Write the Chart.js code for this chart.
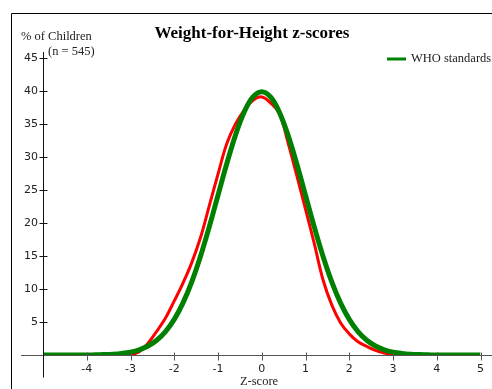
<!DOCTYPE html>
<html>
<head>
<meta charset="utf-8">
<script src="https://cdn.jsdelivr.net/npm/chart.js@4.4.1/dist/chart.umd.min.js"></script>
<style>
  html, body { margin: 0; padding: 0; background: #fff; }
  #wrap { width: 492px; height: 389px; position: relative; }
</style>
</head>
<body>
<div id="wrap"><canvas id="zchart" width="492" height="389"></canvas></div>
<script>
// ========================== Datos
const zScores = [-5, -4.8, -4.6, -4.4, -4.2, -4, -3.8, -3.6, -3.4, -3.2, -3, -2.8, -2.6, -2.4, -2.2, -2, -1.8, -1.6, -1.4, -1.2, -1, -0.8, -0.6, -0.4, -0.2, 0,
                 0.2, 0.4, 0.6, 0.8, 1, 1.2, 1.4, 1.6, 1.8, 2, 2.2, 2.4, 2.6, 2.8, 3, 3.2, 3.4, 3.6, 3.8, 4, 4.2, 4.4, 4.6, 4.8, 5];
const whoValues = [0, 0, 0, 0, 0, 0, 0.03, 0.06, 0.12, 0.24, 0.44, 0.79, 1.36, 2.24, 3.55, 5.4, 7.9, 11.09, 14.97, 19.42, 24.2, 28.97, 33.32, 36.83, 39.1, 39.89,
                   39.1, 36.83, 33.32, 28.97, 24.2, 19.42, 14.97, 11.09, 7.9, 5.4, 3.55, 2.24, 1.36, 0.79, 0.44, 0.24, 0.12, 0.06, 0.03, 0, 0, 0, 0, 0, 0];
const sampleValues = [null, null, null, null, null, null, null, null, null, 0, 0.05, 0.5, 1.8, 3.6, 5.6, 8.2, 10.9, 14.0, 17.8, 22.6, 27.4, 32.0, 35.0, 37.1, 38.6, 39.1,
                      38.2, 36.6, 32.2, 27.2, 22.1, 16.9, 11.4, 7.6, 4.9, 3.2, 2.0, 1.3, 0.7, 0.3, 0.05, 0, null, null, null, null, null, null, null, null, null];
const xTicks = [-4, -3, -2, -1, 0, 1, 2, 3, 4, 5];
const yTicks = [5, 10, 15, 20, 25, 30, 35, 40, 45];

const toPoints = vals => zScores.map((z, i) => ({ x: z, y: vals[i] }));

// ========================== Ejes, marco y textos
const decorPlugin = {
    id: 'decor',
    afterDraw(chart) {
        const ctx = chart.ctx;
        const xs = chart.scales.x, ys = chart.scales.y;
        const x0 = Math.round(xs.getPixelForValue(-5)) + 0.5, y0 = Math.round(ys.getPixelForValue(0)) + 0.5;
        ctx.save();

        // marco
        ctx.strokeStyle = '#000';
        ctx.lineWidth = 1;
        ctx.beginPath();
        ctx.moveTo(11.5, 389);
        ctx.lineTo(11.5, 13.5);
        ctx.lineTo(492, 13.5);
        ctx.stroke();

        // eje x
        ctx.strokeStyle = '#555';
        ctx.beginPath();
        ctx.moveTo(21, y0);
        ctx.lineTo(492, y0);
        xs.ticks.forEach(t => {
            const px = Math.round(xs.getPixelForValue(t.value)) + 0.5;
            ctx.moveTo(px, y0 - 3);
            ctx.lineTo(px, y0 + 5);
        });
        ctx.stroke();

        // eje y
        ctx.strokeStyle = '#111';
        ctx.beginPath();
        ctx.moveTo(x0, ys.getPixelForValue(45) - 6);
        ctx.lineTo(x0, y0 + 22);
        ys.ticks.forEach(t => {
            if (t.value === 0) return;
            const py = Math.round(ys.getPixelForValue(t.value)) + 0.5;
            ctx.moveTo(x0 - 4, py);
            ctx.lineTo(x0 + 4, py);
        });
        ctx.stroke();

        // textos
        ctx.fillStyle = '#000';
        ctx.textBaseline = 'middle';
        ctx.textAlign = 'center';
        ctx.font = 'bold 17px "Liberation Serif"';
        ctx.fillText('Weight-for-Height z-scores', 252, 34);
        ctx.fillStyle = '#222';
        ctx.textAlign = 'left';
        ctx.font = '12.5px "Liberation Serif"';
        ctx.fillText('% of Children', 21, 37);
        ctx.fillText('(n = 545)', 48, 52);
        ctx.textAlign = 'center';
        ctx.fillText('Z-score', 259, 382);

        // leyenda
        ctx.strokeStyle = '#008000';
        ctx.lineWidth = 3;
        ctx.beginPath();
        ctx.moveTo(387, 59);
        ctx.lineTo(406, 59);
        ctx.stroke();
        ctx.textAlign = 'left';
        ctx.font = '12.5px "Liberation Serif"';
        ctx.fillText('WHO standards', 411, 59);

        ctx.restore();
    }
};

new Chart(document.getElementById('zchart'), {
    type: 'line',
    data: {
        datasets: [{
            label: 'WHO standards',
            data: toPoints(whoValues),
            borderColor: '#008000',
            borderWidth: 5,
            pointRadius: 0,
            tension: 0.4,
            order: 0
        }, {
            label: 'Sample',
            data: toPoints(sampleValues),
            borderColor: '#ff0000',
            borderWidth: 3,
            pointRadius: 0,
            tension: 0.4,
            order: 1
        }]
    },
    options: {
        responsive: false,
        animation: false,
        layout: { padding: { left: 0, top: 58, right: 6, bottom: 0 } },
        plugins: {
            legend: { display: false },
            title: { display: false },
            tooltip: { enabled: false }
        },
        scales: {
            x: {
                type: 'linear',
                min: -5,
                max: 5,
                afterFit: s => { s.height = 34; },
                afterBuildTicks: s => { s.ticks = [-5].concat(xTicks).map(v => ({ value: v })); },
                grid: { display: false, drawTicks: false },
                border: { display: false },
                ticks: {
                    padding: 8,
                    color: '#222',
                    font: { family: 'DejaVu Sans', size: 11 },
                    callback: v => (v === -5 ? '' : String(v))
                }
            },
            y: {
                min: 0,
                max: 45,
                afterFit: s => { s.width = 43; },
                afterBuildTicks: s => { s.ticks = [0].concat(yTicks).map(v => ({ value: v })); },
                grid: { display: false, drawTicks: false },
                border: { display: false },
                ticks: {
                    padding: 5,
                    color: '#222',
                    font: { family: 'DejaVu Sans', size: 11 },
                    callback: v => (v === 0 ? '' : String(v))
                }
            }
        }
    },
    plugins: [decorPlugin]
});
</script>
</body>
</html>
